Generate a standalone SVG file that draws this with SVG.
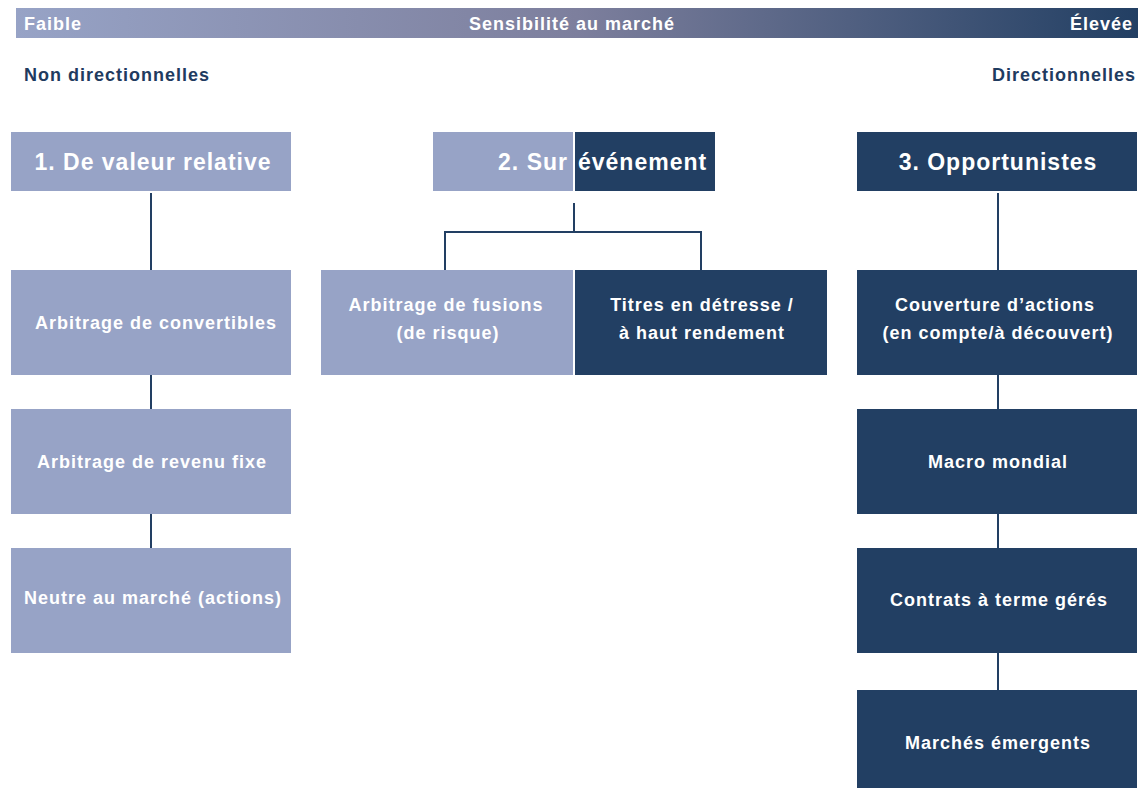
<svg xmlns="http://www.w3.org/2000/svg" width="1146" height="788" viewBox="0 0 1146 788">
<defs>
<linearGradient id="bar" x1="0" y1="0" x2="1" y2="0">
<stop offset="0" stop-color="#97a3c6"/>
<stop offset="0.5" stop-color="#7d7f9d"/>
<stop offset="1" stop-color="#223f63"/>
</linearGradient>
</defs>
<style>
text{font-family:"Liberation Sans","DejaVu Sans",sans-serif;font-weight:bold;letter-spacing:1px;}
.light{fill:#97a3c6;}
.dark{fill:#223f63;}
.t{fill:#ffffff;font-size:18px;}
.h{fill:#ffffff;font-size:23px;}
.lab{fill:#1f3b60;font-size:18px;}
.bar{fill:#ffffff;font-size:18px;}
.conn{stroke:#223f63;stroke-width:2;fill:none;}
</style>
<rect x="16" y="8" width="1122" height="30" fill="url(#bar)"/>
<text class="bar" x="24" y="30">Faible</text>
<text class="bar" x="572" y="30" text-anchor="middle">Sensibilité au marché</text>
<text class="bar" x="1133" y="30" text-anchor="end">Élevée</text>
<text class="lab" x="24" y="81">Non directionnelles</text>
<text class="lab" x="1136" y="81" text-anchor="end">Directionnelles</text>
<g id="connectors">
<line class="conn" x1="151" y1="193" x2="151" y2="270"/>
<line class="conn" x1="151" y1="375" x2="151" y2="409"/>
<line class="conn" x1="151" y1="514" x2="151" y2="548"/>
<path class="conn" d="M574 203 V232 M445 270 V232 H701 V270"/>
<line class="conn" x1="998" y1="193" x2="998" y2="270"/>
<line class="conn" x1="998" y1="375" x2="998" y2="409"/>
<line class="conn" x1="998" y1="514" x2="998" y2="548"/>
<line class="conn" x1="998" y1="653" x2="998" y2="690"/>
</g>
<g id="n1"><rect class="light" x="11" y="132" width="280" height="59"/><text class="h" x="153" y="170" text-anchor="middle">1. De valeur relative</text></g>
<g id="n1a"><rect class="light" x="11" y="270" width="280" height="105"/><text class="t" x="156" y="329" text-anchor="middle">Arbitrage de convertibles</text></g>
<g id="n1b"><rect class="light" x="11" y="409" width="280" height="105"/><text class="t" x="152" y="468" text-anchor="middle">Arbitrage de revenu fixe</text></g>
<g id="n1c"><rect class="light" x="11" y="548" width="280" height="105"/><text class="t" x="153" y="604" text-anchor="middle">Neutre au marché (actions)</text></g>
<g id="n2"><rect class="light" x="433" y="132" width="140" height="59"/><rect class="dark" x="575" y="132" width="140" height="59"/><text class="h" x="568" y="170" text-anchor="end">2. Sur</text><text class="h" x="578" y="170" text-anchor="start">événement</text></g>
<g id="n2a"><rect class="light" x="321" y="270" width="252" height="105"/><text class="t" x="446" y="311" text-anchor="middle">Arbitrage de fusions</text><text class="t" x="448" y="339" text-anchor="middle">(de risque)</text></g>
<g id="n2b"><rect class="dark" x="575" y="270" width="252" height="105"/><text class="t" x="702" y="311" text-anchor="middle">Titres en détresse /</text><text class="t" x="702" y="339" text-anchor="middle">à haut rendement</text></g>
<g id="n3"><rect class="dark" x="857" y="132" width="280" height="59"/><text class="h" x="998" y="170" text-anchor="middle">3. Opportunistes</text></g>
<g id="n3a"><rect class="dark" x="857" y="270" width="280" height="105"/><text class="t" x="995" y="311" text-anchor="middle">Couverture d’actions</text><text class="t" x="998" y="339" text-anchor="middle">(en compte/à découvert)</text></g>
<g id="n3b"><rect class="dark" x="857" y="409" width="280" height="105"/><text class="t" x="998" y="468" text-anchor="middle">Macro mondial</text></g>
<g id="n3c"><rect class="dark" x="857" y="548" width="280" height="105"/><text class="t" x="999" y="606" text-anchor="middle">Contrats à terme gérés</text></g>
<g id="n3d"><rect class="dark" x="857" y="690" width="280" height="98"/><text class="t" x="998" y="749" text-anchor="middle">Marchés émergents</text></g>
</svg>
